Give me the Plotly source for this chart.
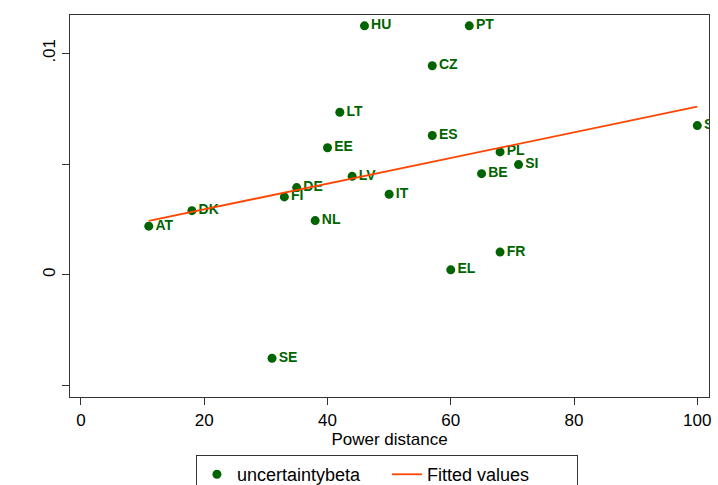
import plotly.graph_objects as go

countries = ["HU", "PT", "CZ", "LT", "ES", "EE", "PL", "SI", "BE", "LV",
             "DE", "FI", "IT", "DK", "AT", "NL", "FR", "EL", "SE", "SK"]
power_distance = [46, 63, 57, 42, 57, 40, 68, 71, 65, 44,
                  35, 33, 50, 18, 11, 38, 68, 60, 31, 100]
uncertaintybeta = [0.01124, 0.01124, 0.00944, 0.00734, 0.00629, 0.00574, 0.00555, 0.00498, 0.00457, 0.00445,
                   0.00394, 0.00352, 0.00364, 0.00290, 0.00220, 0.00245, 0.00103, 0.00023, -0.00376, 0.00674]
fit_x = [11, 100]
fit_y = [0.00244, 0.00759]

x_ticks = [0, 20, 40, 60, 80, 100]
y_ticks = [-0.005, 0, 0.005, 0.01]
y_ticklabels = ["", "0", "", ".01"]

green = "#006400"
orange = "#FF4500"

fig = go.Figure()
fig.add_trace(go.Scatter(
    x=power_distance, y=uncertaintybeta, mode="markers+text",
    text=countries, textposition="middle right",
    textfont=dict(family="Liberation Sans", size=14, color=green, weight="bold"),
    marker=dict(color=green, size=9),
    name="uncertaintybeta", cliponaxis=True,
))
fig.add_trace(go.Scatter(
    x=fit_x, y=fit_y, mode="lines",
    line=dict(color=orange, width=1.8),
    name="Fitted values",
))

fig.update_layout(
    width=718, height=485,
    margin=dict(l=70, r=9, t=15, b=88, autoexpand=False),
    paper_bgcolor="white", plot_bgcolor="white",
    font=dict(family="Liberation Sans", size=17, color="black"),
    legend=dict(orientation="h", x=0.496, xanchor="center", y=-0.152, yanchor="top",
                bordercolor="#333", borderwidth=1, bgcolor="white",
                font=dict(size=18), itemwidth=30, entrywidth=145),
)
fig.update_xaxes(
    range=[-1.78, 101.9], tickvals=x_ticks, ticks="outside", ticklen=7,
    tickcolor="#333", showline=True, linecolor="#333", linewidth=1.2, mirror=True,
    showgrid=False, zeroline=False, automargin=False,
    title=dict(text="Power distance", standoff=4, font=dict(size=17)),
    tickfont=dict(size=17),
)
fig.update_yaxes(
    range=[-0.00551, 0.01173], tickvals=y_ticks, ticktext=y_ticklabels,
    ticks="outside", ticklen=7, tickcolor="#333", tickangle=-90,
    showline=True, linecolor="#333", linewidth=1.2, mirror=True,
    showgrid=False, zeroline=False, tickfont=dict(size=17), automargin=False,
)

fig.write_html("out.html", config={"displayModeBar": False},
               post_script="document.body.style.margin='0';document.body.style.overflow='hidden';")
